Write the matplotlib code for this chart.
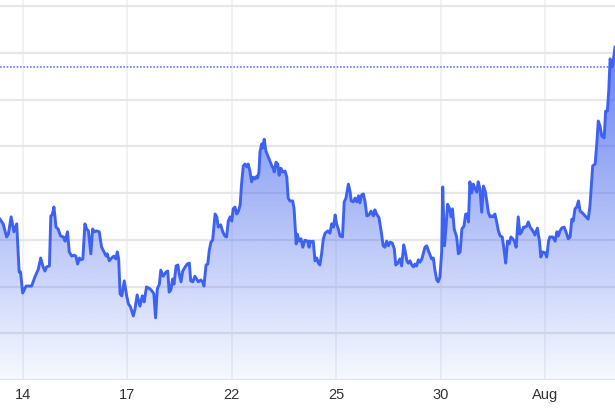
import numpy as np
import matplotlib
matplotlib.use("Agg")
import matplotlib.pyplot as plt
from matplotlib.colors import to_rgb

plt.rcParams['font.family'] = ['Liberation Sans', 'DejaVu Sans']

# trading-day offsets from the 14th (session days, weekends removed) and prices
days = [
    -0.66, -0.57, -0.47, -0.42, -0.34, -0.26, -0.18, -0.11, -0.07, -0.01,
    0.09, 0.25, 0.34, 0.44, 0.51, 0.57, 0.63, 0.68, 0.76, 0.80,
    0.84, 0.89, 0.95, 1.01, 1.08, 1.16, 1.21, 1.28, 1.33, 1.40,
    1.47, 1.52, 1.57, 1.62, 1.67, 1.72, 1.78, 1.83, 1.88, 1.95,
    2.00, 2.05, 2.12, 2.19, 2.26, 2.33, 2.39, 2.42, 2.48, 2.55,
    2.61, 2.67, 2.71, 2.75, 2.79, 2.84, 2.91, 2.98, 3.03, 3.09,
    3.17, 3.22, 3.28, 3.36, 3.43, 3.48, 3.55,
    3.65, 3.73, 3.76, 3.81, 3.86, 3.92, 3.96, 4.03, 4.11, 4.16,
    4.20, 4.25, 4.30, 4.34, 4.40, 4.45, 4.49, 4.54, 4.59, 4.66,
    4.72, 4.78, 4.82, 4.88, 4.94, 4.99, 5.04, 5.11, 5.16, 5.20,
    5.26, 5.31, 5.35, 5.40, 5.45, 5.52, 5.57, 5.61, 5.68, 5.74,
    5.80, 5.85, 5.90, 5.95, 6.00, 6.04, 6.09, 6.14, 6.19, 6.24,
    6.28, 6.33, 6.38, 6.43, 6.47, 6.52, 6.57, 6.62, 6.67, 6.72,
    6.74, 6.78, 6.81, 6.86, 6.89, 6.93, 6.98, 7.05, 7.10, 7.15,
    7.19, 7.22, 7.27, 7.32, 7.36, 7.41, 7.46, 7.53, 7.58, 7.62,
    7.67, 7.75, 7.79, 7.85, 7.88, 7.94, 7.99, 8.04,
    8.10, 8.18, 8.22, 8.25, 8.30, 8.34, 8.39, 8.44, 8.49, 8.53,
    8.58, 8.63, 8.68, 8.76, 8.82, 8.87, 8.92, 8.97, 9.01, 9.06,
    9.11, 9.18, 9.23, 9.28, 9.35, 9.40, 9.43, 9.49, 9.54, 9.59,
    9.64, 9.68, 9.73, 9.78, 9.83, 9.88, 9.94, 10.00, 10.07, 10.11,
    10.16, 10.23, 10.29, 10.35, 10.40, 10.45, 10.50, 10.55, 10.61, 10.67,
    10.71, 10.77, 10.83, 10.88, 10.94, 10.98, 11.03, 11.07, 11.12, 11.17,
    11.22, 11.26, 11.31, 11.36, 11.41, 11.46, 11.50, 11.55, 11.60, 11.65,
    11.70, 11.74, 11.79, 11.84, 11.89, 11.93, 11.98, 12.03, 12.06, 12.11,
    12.15, 12.20, 12.25, 12.30, 12.34, 12.39, 12.46, 12.51,
    12.56, 12.61, 12.67, 12.72, 12.77, 12.80, 12.84, 12.89, 12.94, 12.99,
    13.04, 13.08, 13.13, 13.18, 13.23, 13.28, 13.33, 13.37, 13.42, 13.47,
    13.51, 13.56, 13.61, 13.66, 13.71, 13.77, 13.82, 13.87, 13.92, 13.97,
    14.02, 14.07, 14.12, 14.17, 14.23, 14.28, 14.33, 14.38, 14.43, 14.47,
    14.52, 14.57, 14.65, 14.71, 14.78, 14.84, 14.88, 14.93, 15.00, 15.05,
    15.10, 15.14, 15.22, 15.29, 15.34, 15.38, 15.43, 15.48, 15.55, 15.60,
    15.67, 15.72, 15.77, 15.81, 15.86, 15.91, 15.96, 16.01, 16.08, 16.15,
    16.24, 16.29, 16.34, 16.37, 16.44, 16.49, 16.53, 16.58, 16.63, 16.70,
    16.74, 16.79, 16.83, 16.87, 16.92, 16.96, 17.01,
]

price = [
    23.44, 23.34, 23.06, 23.12, 23.49, 23.17, 23.34, 22.31, 22.31, 21.86,
    22.01, 22.01, 22.20, 22.37, 22.61, 22.44, 22.33, 22.42, 22.44, 23.51,
    23.53, 23.70, 23.27, 23.23, 23.08, 23.06, 22.97, 23.17, 22.74, 22.65,
    22.67, 22.65, 22.48, 22.61, 22.57, 22.59, 23.34, 23.23, 23.19, 22.70,
    23.23, 23.17, 23.19, 23.17, 22.84, 22.74, 22.65, 22.70, 22.55, 22.61,
    22.65, 22.59, 22.74, 22.59, 21.84, 21.80, 22.12, 21.80, 21.63, 21.56,
    21.37, 21.52, 21.82, 21.58, 21.80, 21.67, 21.99,
    21.95, 21.88, 21.84, 21.33, 21.95, 22.05, 22.35, 22.22, 22.31, 22.33,
    21.88, 21.93, 22.16, 22.05, 22.44, 22.46, 22.27, 22.10, 22.33, 22.42,
    22.48, 22.50, 22.12, 22.10, 22.22, 22.16, 22.10, 22.14, 22.10, 22.01,
    22.46, 22.48, 22.76, 22.95, 22.99, 23.55, 23.49, 23.27, 23.32, 23.17,
    23.08, 23.06, 23.40, 23.49, 23.40, 23.66, 23.70, 23.55, 23.61, 23.74,
    24.19, 24.58, 24.62, 24.56, 24.62, 24.47, 24.24, 24.34, 24.30, 24.36,
    24.32, 24.45, 24.88, 25.05, 24.96, 25.15, 24.90, 24.77, 24.68, 24.58,
    24.53, 24.45, 24.66, 24.62, 24.38, 24.53, 24.45, 24.47, 24.34, 23.89,
    23.83, 23.83, 23.66, 22.91, 23.12, 22.97, 23.02, 22.84,
    22.99, 22.97, 22.84, 22.97, 22.95, 22.97, 22.55, 22.61, 22.50, 22.46,
    22.70, 23.02, 23.14, 23.19, 23.14, 23.34, 23.27, 23.53, 23.34, 23.23,
    23.08, 23.06, 23.81, 23.89, 24.19, 24.02, 23.83, 23.81, 23.89, 23.81,
    23.94, 23.79, 23.96, 23.98, 23.81, 23.51, 23.53, 23.61, 23.51, 23.64,
    23.55, 23.47, 23.19, 22.87, 22.84, 22.97, 22.87, 22.95, 22.93, 22.80,
    22.46, 22.50, 22.59, 22.44, 22.89, 22.76, 22.55, 22.50, 22.55, 22.46,
    22.42, 22.48, 22.44, 22.57, 22.52, 22.59, 22.70, 22.84, 22.87, 22.76,
    22.67, 22.59, 22.61, 22.33, 22.14, 22.10, 22.20, 22.74, 24.13, 22.87,
    23.23, 23.76, 23.68, 23.49, 23.66, 23.23, 23.06, 22.70,
    22.74, 23.23, 23.29, 23.55, 23.55, 23.38, 24.24, 24.00, 24.19, 24.09,
    24.02, 24.24, 24.09, 23.59, 24.15, 24.04, 23.81, 23.59, 23.49, 23.51,
    23.49, 23.55, 23.38, 23.19, 23.08, 23.06, 22.80, 22.50, 22.97, 22.91,
    23.06, 23.02, 22.97, 22.84, 23.49, 23.12, 23.17, 23.27, 23.27, 23.29,
    23.38, 23.27, 23.19, 23.10, 23.25, 22.97, 22.63, 22.74, 22.72, 22.63,
    22.97, 23.06, 23.06, 22.97, 23.17, 23.08, 23.19, 23.25, 23.27, 23.17,
    23.02, 23.06, 23.44, 23.40, 23.66, 23.70, 23.83, 23.61, 23.57, 23.51,
    23.44, 23.72, 24.26, 24.58, 24.62, 25.09, 25.54, 25.43, 25.22, 25.18,
    25.75, 25.75, 26.18, 26.87, 26.70, 26.82, 27.12,
]

tick_days = [0, 3, 6, 9, 12, 15]
tick_labels = ["14", "17", "22", "25", "30", "Aug"]
ref_price = 26.70
grid_prices = [20, 21, 22, 23, 24, 25, 26, 27, 28]

line_color = "#3d62f2"

fig = plt.figure(figsize=(6.15, 4.10), dpi=100)
ax = fig.add_axes([0, 29 / 410, 1, 381 / 410])

ax.set_xlim(days[0], days[-1])
ax.set_ylim(20, 28.15)

# gradient fill under the line
x0, x1 = ax.get_xlim()
y0, y1 = ax.get_ylim()
rgb = to_rgb("#4466ee")
grad = np.zeros((256, 1, 4))
grad[:, 0, :3] = rgb
grad[:, 0, 3] = np.linspace(0.93, 0.04, 256)
img = ax.imshow(grad, extent=[x0, x1, y0, y1], aspect="auto", origin="upper",
                interpolation="bilinear", zorder=2)
poly = ax.fill_between(days, price, y0, facecolor="none", edgecolor="none")
clip = poly.get_paths()[0]
img.set_clip_path(clip, transform=ax.transData)

ax.plot(days, price, color=line_color, linewidth=2.1, zorder=3,
        solid_joinstyle="round")

ax.axhline(ref_price, color="#5a7ef8", linewidth=1.2, linestyle=(0, (1, 1)),
           zorder=2.5)

ax.set_yticks(grid_prices)
ax.set_xticks(tick_days)
ax.set_xticklabels(tick_labels)
ax.grid(axis="y", color="#e7e7ea", linewidth=1.6, zorder=1)
ax.grid(axis="x", color="#edf0f5", linewidth=1.2, zorder=1)
ax.set_axisbelow(True)

for s in ax.spines.values():
    s.set_visible(False)
ax.tick_params(axis="both", length=0)
ax.tick_params(axis="y", labelleft=False)
ax.tick_params(axis="x", labelsize=10.5, labelcolor="#333333", pad=5)

fig.savefig("out.png", dpi=100)
